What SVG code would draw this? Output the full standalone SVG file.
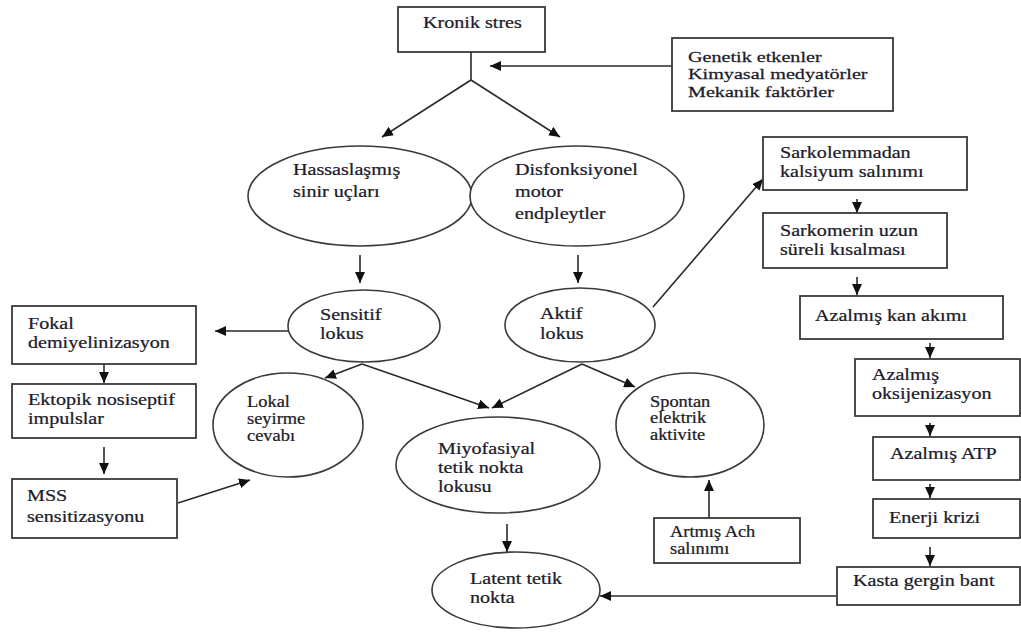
<svg xmlns="http://www.w3.org/2000/svg" width="1021" height="632" viewBox="0 0 1021 632">
<style>
.box{fill:#fff;stroke:#3a3a3a;stroke-width:1.8}
.ell{fill:#fff;stroke:#3a3a3a;stroke-width:1.6}
.t{font-family:"Liberation Serif","Times New Roman",serif;font-size:17.5px;fill:#1c1c2a;stroke:#1c1c2a;stroke-width:0.25}
.s{font-size:16px}
.g{font-size:15.5px}
.c{stroke:#2a2a2a;stroke-width:1.6;fill:none;marker-end:url(#ah)}
.p{stroke:#2a2a2a;stroke-width:1.6;fill:none}
</style>
<defs>
<marker id="ah" markerUnits="userSpaceOnUse" markerWidth="12" markerHeight="10" refX="11" refY="5" orient="auto">
<path d="M0,0 L11,5 L0,10 z" fill="#111"/>
</marker>
</defs>
<rect width="1021" height="632" fill="#fff"/>

<g id="connectors">
<line class="p" x1="471" y1="52" x2="471" y2="80"/>
<line class="c" x1="471" y1="80" x2="382" y2="137"/>
<line class="c" x1="471" y1="80" x2="560" y2="137"/>
<line class="c" x1="672" y1="66" x2="490" y2="66"/>
<line class="c" x1="360" y1="255" x2="360" y2="283"/>
<line class="c" x1="578" y1="255" x2="578" y2="283"/>
<line class="c" x1="288" y1="331" x2="215" y2="331"/>
<line class="c" x1="104" y1="365" x2="104" y2="383"/>
<line class="c" x1="104" y1="447" x2="104" y2="474"/>
<line class="c" x1="178" y1="503" x2="250" y2="480"/>
<line class="c" x1="362" y1="364" x2="325" y2="378"/>
<line class="c" x1="362" y1="364" x2="489" y2="408"/>
<line class="c" x1="582" y1="364" x2="492" y2="408"/>
<line class="c" x1="582" y1="364" x2="635" y2="387"/>
<line class="c" x1="653" y1="307" x2="763" y2="179"/>
<line class="c" x1="709" y1="518" x2="709" y2="480"/>
<line class="c" x1="507" y1="524" x2="507" y2="552"/>
<line class="c" x1="837" y1="596" x2="600" y2="596"/>
<line class="c" x1="857" y1="199" x2="857" y2="213"/>
<line class="c" x1="857" y1="277" x2="857" y2="295"/>
<line class="c" x1="930" y1="343" x2="930" y2="358"/>
<line class="c" x1="930" y1="423" x2="930" y2="436"/>
<line class="c" x1="930" y1="484" x2="930" y2="498"/>
<line class="c" x1="930" y1="547" x2="930" y2="566"/>
</g>

<g id="kronik"><rect class="box" x="398" y="7" width="147" height="45"/>
<text class="t" transform="translate(423 28) scale(1.15 1)">Kronik stres</text></g>

<g id="genetik"><rect class="box" x="672" y="38" width="221" height="73"/>
<text class="t g" transform="translate(688 62) scale(1.3 1)"><tspan x="0" y="0">Genetik etkenler</tspan><tspan x="0" y="17.5">Kimyasal medyatörler</tspan><tspan x="0" y="35">Mekanik faktörler</tspan></text></g>

<g id="hassas"><ellipse class="ell" cx="360" cy="196" rx="112" ry="50"/>
<text class="t" transform="translate(293 175) scale(1.15 1)"><tspan x="0" y="0">Hassaslaşmış</tspan><tspan x="0" y="22">sinir uçları</tspan></text></g>

<g id="disfonk"><ellipse class="ell" cx="577" cy="196" rx="107" ry="50"/>
<text class="t" transform="translate(515 175) scale(1.15 1)"><tspan x="0" y="0">Disfonksiyonel</tspan><tspan x="0" y="22">motor</tspan><tspan x="0" y="44">endpleytler</tspan></text></g>

<g id="sensitif"><ellipse class="ell" cx="364" cy="326" rx="76" ry="36"/>
<text class="t" transform="translate(320 320) scale(1.15 1)"><tspan x="0" y="0">Sensitif</tspan><tspan x="0" y="19">lokus</tspan></text></g>

<g id="aktif"><ellipse class="ell" cx="580" cy="325" rx="75" ry="37"/>
<text class="t" transform="translate(540 319) scale(1.15 1)"><tspan x="0" y="0">Aktif</tspan><tspan x="0" y="20">lokus</tspan></text></g>

<g id="fokal"><rect class="box" x="12" y="306" width="184" height="58"/>
<text class="t" transform="translate(28 329) scale(1.15 1)"><tspan x="0" y="0">Fokal</tspan><tspan x="0" y="19">demiyelinizasyon</tspan></text></g>

<g id="ektopik"><rect class="box" x="12" y="384" width="184" height="54"/>
<text class="t" transform="translate(28 405) scale(1.15 1)"><tspan x="0" y="0">Ektopik nosiseptif</tspan><tspan x="0" y="19">impulslar</tspan></text></g>

<g id="mss"><rect class="box" x="12" y="479" width="165" height="59"/>
<text class="t" transform="translate(27 501) scale(1.15 1)"><tspan x="0" y="0">MSS</tspan><tspan x="0" y="21">sensitizasyonu</tspan></text></g>

<g id="lokal"><ellipse class="ell" cx="288" cy="425" rx="75" ry="52"/>
<text class="t s" transform="translate(247 407) scale(1.15 1)"><tspan x="0" y="0">Lokal</tspan><tspan x="0" y="17">seyirme</tspan><tspan x="0" y="34">cevabı</tspan></text></g>

<g id="miyo"><ellipse class="ell" cx="498" cy="465" rx="102" ry="48"/>
<text class="t" transform="translate(438 454) scale(1.15 1)"><tspan x="0" y="0">Miyofasiyal</tspan><tspan x="0" y="19">tetik nokta</tspan><tspan x="0" y="38">lokusu</tspan></text></g>

<g id="spontan"><ellipse class="ell" cx="690" cy="425" rx="74" ry="52"/>
<text class="t s" transform="translate(650 407) scale(1.15 1)"><tspan x="0" y="0">Spontan</tspan><tspan x="0" y="16.5">elektrik</tspan><tspan x="0" y="33">aktivite</tspan></text></g>

<g id="artmis"><rect class="box" x="654" y="518" width="146" height="45"/>
<text class="t s" transform="translate(670 537) scale(1.15 1)"><tspan x="0" y="0">Artmış Ach</tspan><tspan x="0" y="17">salınımı</tspan></text></g>

<g id="latent"><ellipse class="ell" cx="516" cy="590" rx="84" ry="38"/>
<text class="t" transform="translate(470 584) scale(1.15 1)"><tspan x="0" y="0">Latent tetik</tspan><tspan x="0" y="19">nokta</tspan></text></g>

<g id="sarkolemma"><rect class="box" x="763" y="137" width="204" height="53"/>
<text class="t" transform="translate(780 158) scale(1.15 1)"><tspan x="0" y="0">Sarkolemmadan</tspan><tspan x="0" y="19">kalsiyum salınımı</tspan></text></g>

<g id="sarkomer"><rect class="box" x="763" y="213" width="184" height="55"/>
<text class="t" transform="translate(780 236) scale(1.15 1)"><tspan x="0" y="0">Sarkomerin uzun</tspan><tspan x="0" y="19">süreli kısalması</tspan></text></g>

<g id="kan"><rect class="box" x="800" y="296" width="203" height="43"/>
<text class="t" transform="translate(815 321) scale(1.15 1)">Azalmış kan akımı</text></g>

<g id="oksijen"><rect class="box" x="855" y="359" width="165" height="57"/>
<text class="t" transform="translate(872 380) scale(1.15 1)"><tspan x="0" y="0">Azalmış</tspan><tspan x="0" y="19">oksijenizasyon</tspan></text></g>

<g id="atp"><rect class="box" x="873" y="437" width="147" height="43"/>
<text class="t" transform="translate(890 459) scale(1.15 1)">Azalmış ATP</text></g>

<g id="enerji"><rect class="box" x="873" y="499" width="147" height="39"/>
<text class="t" transform="translate(889 523) scale(1.15 1)">Enerji krizi</text></g>

<g id="kasta"><rect class="box" x="837" y="567" width="183" height="38"/>
<text class="t" transform="translate(853 586) scale(1.15 1)">Kasta gergin bant</text></g>
</svg>
